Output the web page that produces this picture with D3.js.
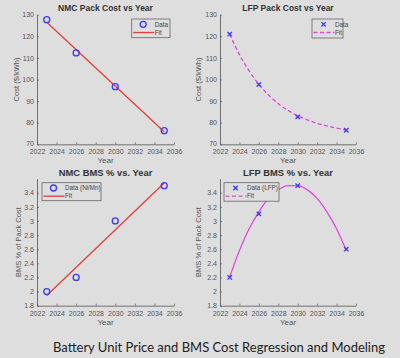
<!DOCTYPE html>
<html><head><meta charset="utf-8">
<script src="https://cdn.jsdelivr.net/npm/d3@7"></script>
<style>
html,body{margin:0;padding:0;background:#dedede;}
svg{display:block;}
</style></head>
<body>
<script>
// ---- data ----
const years = [2023, 2026, 2030, 2035];
const nmcPackCost = [127.7, 112.3, 96.7, 76.3];
const nmcPackFitYears = [2023, 2035];
const nmcPackFit = [126.5, 75.8];
const lfpPackCost = [121.0, 97.7, 82.7, 76.5];
const fitYears = [2023,2024,2025,2026,2027,2028,2029,2030,2031,2032,2033,2034,2035];
const lfpPackFit = [121.0,111.5,104.0,97.8,92.8,88.8,85.7,83.2,81.3,79.7,78.5,77.5,76.6];
const nmcBms = [2.0, 2.2, 3.0, 3.5];
const nmcBmsFitYears = [2023, 2035];
const nmcBmsFit = [1.945, 3.538];
const lfpBms = [2.2, 3.1, 3.5, 2.6];
const lfpBmsFit = [2.21,2.58,2.89,3.13,3.32,3.44,3.50,3.50,3.44,3.32,3.13,2.89,2.58];
const xTicks = [2022,2024,2026,2028,2030,2032,2034,2036];
const costTicks = [70,80,90,100,110,120,130];
const bmsTicks = [1.8,2,2.2,2.4,2.6,2.8,3,3.2,3.4];
const titles = ["NMC Pack Cost vs Year","LFP Pack Cost vs Year","NMC BMS % vs. Year","LFP BMS % vs. Year"];
const caption = "Battery Unit Price and BMS Cost Regression and Modeling";

const W=400,H=358;
const svg=d3.select("body").append("svg").attr("width",W).attr("height",H);
svg.append("rect").attr("width",W).attr("height",H).attr("fill","#dedede");

const BLUE="#3a3aee", RED="#e0403a", MAG="#e046e0";
const AX="#555";
const FONT="'Liberation Sans', Arial, sans-serif";

const panels=[
 {x0:37,x1:174,yTop:14.7,yBot:144.3,yDom:[70,130],yTicks:costTicks,ylab:"Cost ($/kWh)",ylabX:16,title:titles[0],titleY:10.8,titleSize:8.5,
  data:nmcPackCost,marker:"o",fx:nmcPackFitYears,fy:nmcPackFit,fitColor:RED,dash:null,
  leg:{x:131.7,y:19,w:38.3,h:18.7,label:"Data"}},
 {x0:220,x1:356,yTop:14.7,yBot:144.3,yDom:[70,130],yTicks:costTicks,ylab:"Cost ($/kWh)",ylabX:198,title:titles[1],titleY:10.8,titleSize:8.5,
  data:lfpPackCost,marker:"x",fx:fitYears,fy:lfpPackFit,fitColor:MAG,dash:"4,2.5",
  leg:{x:312,y:19,w:31,h:19,label:"Data"}},
 {x0:37,x1:174,yTop:178.6,yBot:305.7,yDom:[1.8,3.6],yTicks:bmsTicks,ylab:"BMS % of Pack Cost",ylabX:18,title:titles[2],titleY:175.5,titleSize:9.4,
  data:nmcBms,marker:"o",fx:nmcBmsFitYears,fy:nmcBmsFit,fitColor:RED,dash:null,
  leg:{x:42,y:182.7,w:59,h:18,label:"Data (Ni/Mn)"}},
 {x0:220,x1:356,yTop:178.6,yBot:305.7,yDom:[1.8,3.6],yTicks:bmsTicks,ylab:"BMS % of Pack Cost",ylabX:198,title:titles[3],titleY:175.5,titleSize:9.4,
  data:lfpBms,marker:"x",fx:fitYears,fy:lfpBmsFit,fitColor:MAG,dash:null,legDash:"4,2.5",
  leg:{x:224,y:182.7,w:55,h:18.5,label:"Data (LFP)"}}
];

function drawMarker(g,type,cx,cy){
  if(type==="o"){
    g.append("circle").attr("cx",cx).attr("cy",cy).attr("r",3).attr("fill","none").attr("stroke",BLUE).attr("stroke-width",1.3);
  } else {
    const s=2.2;
    g.append("path").attr("d",`M${cx-s},${cy-s}L${cx+s},${cy+s}M${cx-s},${cy+s}L${cx+s},${cy-s}`).attr("stroke",BLUE).attr("stroke-width",1.3);
  }
}

panels.forEach(p=>{
  const g=svg.append("g");
  const x=d3.scaleLinear().domain([2022,2036]).range([p.x0,p.x1]);
  const y=d3.scaleLinear().domain(p.yDom).range([p.yBot,p.yTop]);
  const xa=g.append("g").attr("transform",`translate(0,${p.yBot})`)
    .call(d3.axisBottom(x).tickValues(xTicks).tickSizeInner(-2).tickSizeOuter(0).tickPadding(5).tickFormat(d3.format("d")));
  const ya=g.append("g").attr("transform",`translate(${p.x0},0)`)
    .call(d3.axisLeft(y).tickValues(p.yTicks).tickSizeInner(-2).tickSizeOuter(0).tickPadding(3).tickFormat(d=>String(+d.toFixed(1))));
  [xa,ya].forEach(a=>{
    a.select(".domain").attr("stroke",AX).attr("stroke-width",0.8);
    a.selectAll(".tick line").attr("stroke",AX).attr("stroke-width",0.7);
    a.selectAll("text").attr("fill","#555").style("font-family",FONT).style("font-size","7px");
  });
  ya.selectAll(".tick text").filter(d=>d===p.yDom[0]).attr("dy","0.2em");
  g.append("text").attr("x",(p.x0+p.x1)/2).attr("y",p.yBot+19).attr("text-anchor","middle")
    .style("font-family",FONT).style("font-size","8px").attr("fill","#555").text("Year");
  g.append("text").attr("transform",`translate(${p.ylabX},${(p.yTop+p.yBot)/2}) rotate(-90)`).attr("text-anchor","middle")
    .attr("dy","0.35em").style("font-family",FONT).style("font-size","7.5px").attr("fill","#555").text(p.ylab);
  g.append("text").attr("x",(p.x0+p.x1)/2).attr("y",p.titleY).attr("text-anchor","middle")
    .style("font-family",FONT).style("font-size",p.titleSize+"px").style("font-weight","bold").attr("fill","#333").text(p.title);
  const line=d3.line().x(d=>x(d[0])).y(d=>y(d[1])).curve(p.fx.length>2?d3.curveMonotoneX:d3.curveLinear);
  g.append("path").datum(p.fx.map((v,i)=>[v,p.fy[i]])).attr("d",line).attr("fill","none")
    .attr("stroke",p.fitColor).attr("stroke-width",1.3).attr("stroke-dasharray",p.dash);
  years.forEach((yr,i)=>drawMarker(g,p.marker,x(yr),y(p.data[i])));
  const L=p.leg;
  g.append("rect").attr("x",L.x).attr("y",L.y).attr("width",L.w).attr("height",L.h)
    .attr("fill","#dedede").attr("stroke","#666").attr("stroke-width",0.8);
  drawMarker(g,p.marker,L.x+11.5,L.y+5.3);
  g.append("text").attr("x",L.x+23).attr("y",L.y+5.5).attr("dy","0.35em")
    .style("font-family",FONT).style("font-size","6.3px").attr("fill","#444").text(L.label);
  g.append("line").attr("x1",L.x+1.5).attr("x2",L.x+22.5).attr("y1",L.y+13.5).attr("y2",L.y+13.5)
    .attr("stroke",p.fitColor).attr("stroke-width",1.3).attr("stroke-dasharray",p.legDash||p.dash);
  g.append("text").attr("x",L.x+23).attr("y",L.y+13.5).attr("dy","0.35em")
    .style("font-family",FONT).style("font-size","6.3px").attr("fill","#444").text("Fit");
});

svg.append("text").attr("x",219).attr("y",352).attr("text-anchor","middle")
  .attr("textLength",332).attr("lengthAdjust","spacingAndGlyphs")
  .style("font-family","Lato, 'Open Sans', sans-serif").style("font-size","13.5px").attr("fill","#222").text(caption);
</script>
</body></html>
